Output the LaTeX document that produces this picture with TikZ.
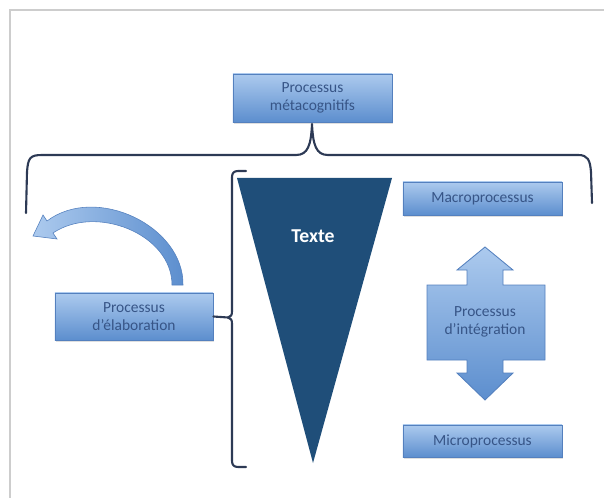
\documentclass[tikz,border=0pt]{standalone}
\usepackage{fontspec}
\setmainfont{Carlito}
\usetikzlibrary{shadows}

\definecolor{boxtop}{RGB}{172,202,238}
\definecolor{boxbot}{RGB}{92,142,206}
\definecolor{boxline}{RGB}{84,128,190}
\definecolor{boxtext}{RGB}{55,85,135}
\definecolor{textefill}{RGB}{31,78,121}
\definecolor{bracecol}{RGB}{45,58,85}
\definecolor{framecol}{RGB}{205,205,205}

\tikzset{
  procbox/.style={draw=boxline, line width=0.6pt, top color=boxtop, bottom color=boxbot,
    text=boxtext, font=\fontsize{11}{13}\selectfont, align=center, inner sep=0pt,
    drop shadow={opacity=0.25, shadow xshift=1pt, shadow yshift=-1.2pt}},
  brace/.style={draw=bracecol, line width=1.5pt, line join=round, line cap=round}
}

\begin{document}
\begin{tikzpicture}[x=0.025cm, y=-0.025cm]
  \useasboundingbox (0,0) rectangle (604,498);
  \draw[framecol, line width=0.8pt] (10,498) -- (10,10) -- (604,10);

  % boxes
  \node (metacog) [procbox, minimum width=3.975cm, minimum height=1.2cm] at (312.5,98) {Processus\\métacognitifs};
  \node (elab) [procbox, minimum width=3.95cm, minimum height=1.175cm] at (134,316.5) {Processus\\d’élaboration};
  \node (macro) [procbox, minimum width=3.975cm, minimum height=0.825cm] at (482.5,198.5) {Macroprocessus};
  \node (micro) [procbox, minimum width=3.975cm, minimum height=0.8cm] at (482.5,441) {Microprocessus};

  % texte
  \fill[textefill] (237,178) -- (392,178) -- (313,463) -- cycle;
  \node (texte) [text=white, font=\fontsize{14}{16}\selectfont\bfseries] at (313,236) {Texte};

  % double fleche
  \shade[top color=boxtop, bottom color=boxbot, draw=boxline, line width=0.6pt]
    (485,247) -- (513,270) -- (503,270) -- (503,285) -- (545,285) -- (545,360)
    -- (503,360) -- (503,373) -- (513,373) -- (485,400) -- (457,373) -- (467,373)
    -- (467,360) -- (427,360) -- (427,285) -- (467,285) -- (467,270) -- (457,270) -- cycle;
  \node (integ) [text=boxtext, font=\fontsize{11}{13}\selectfont, align=center] at (485,322) {Processus\\d’intégration};

  % fleche courbe
  \shade[left color=boxtop, right color=boxbot, draw=boxline, line width=0.4pt]
    (183,285) .. controls (184,226) and (96,184) .. (47,221) -- (43,215) -- (33,236)
    -- (57,239) -- (53,233) .. controls (96,204) and (172,234) .. (172,285) -- cycle;

  % accolades
  \draw[brace] (26,213) -- (27,172) .. controls (28,158) and (30,155) .. (42,155)
    -- (296,155) .. controls (308,155) and (311,145) .. (312,124)
    .. controls (313,145) and (316,155) .. (328,155) -- (578,155)
    .. controls (588,155) and (590,160) .. (591,172) -- (592,203);
  \draw[brace] (246,171) -- (238,171) .. controls (234,171) and (232,173) .. (232,177)
    -- (232,311) .. controls (232,315) and (231,317) .. (228,317.5) coordinate (cusp)
    .. controls (231,318) and (232,320) .. (232,324) -- (232,461)
    .. controls (232,465) and (234,467) .. (238,467) -- (246,467);
  \draw[brace] (elab.east) -- (cusp);
\end{tikzpicture}
\end{document}
